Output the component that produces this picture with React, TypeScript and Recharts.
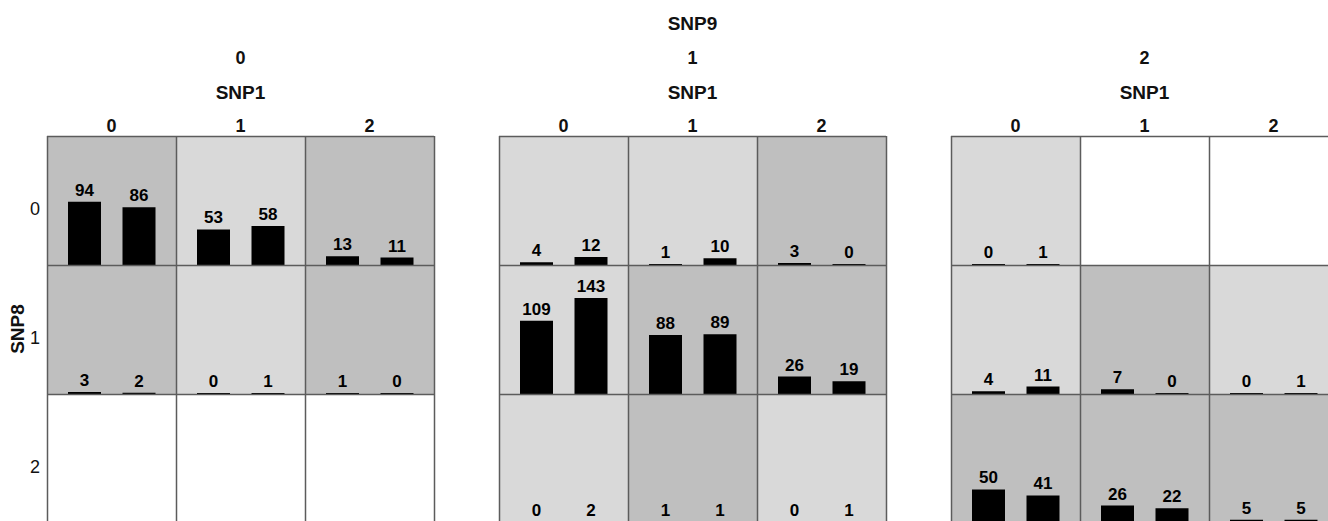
import React from 'react';
import { BarChart, Bar, XAxis, YAxis, CartesianGrid, LabelList } from 'recharts';

const snp9Levels = ['0', '1', '2'];
const snp1Levels = ['0', '1', '2'];
const snp8Levels = ['0', '1', '2'];
const groupKeys = ['A', 'B'];

type Pair = [number, number] | null;

// counts[row = SNP8][col = SNP1] for each SNP9 level
const countsSnp9Is0: Pair[][] = [
  [[94, 86], [53, 58], [13, 11]],
  [[3, 2], [0, 1], [1, 0]],
  [null, null, null],
];
const countsSnp9Is1: Pair[][] = [
  [[4, 12], [1, 10], [3, 0]],
  [[109, 143], [88, 89], [26, 19]],
  [[0, 2], [1, 1], [0, 1]],
];
const countsSnp9Is2: Pair[][] = [
  [[0, 1], null, null],
  [[4, 11], [7, 0], [0, 1]],
  [[50, 41], [26, 22], [5, 5]],
];
const counts = [countsSnp9Is0, countsSnp9Is1, countsSnp9Is2];

// cell shading class: d = dark, l = light, w = none
const shadeSnp9Is0 = [['d', 'l', 'd'], ['d', 'l', 'd'], ['w', 'w', 'w']];
const shadeSnp9Is1 = [['l', 'l', 'd'], ['l', 'd', 'd'], ['l', 'd', 'l']];
const shadeSnp9Is2 = [['l', 'w', 'w'], ['l', 'd', 'l'], ['d', 'd', 'd']];
const shades = [shadeSnp9Is0, shadeSnp9Is1, shadeSnp9Is2];

const shadeColor: Record<string, string> = { d: '#bfbfbf', l: '#d9d9d9', w: '#ffffff' };

const FONT = '"Liberation Sans", Arial, Helvetica, sans-serif';
const PANEL_LEFT = [47, 499, 951];
const TOP = 136;
const CELL_W = 129;
const ROW_H = 129;
const LINE = '#5c5c5c';

const CellChart = ({ pair, bg }: { pair: Pair; bg: string }) => {
  const data = pair ? groupKeys.map((k, i) => ({ k, v: pair[i] })) : [];
  return (
    <BarChart width={CELL_W} height={ROW_H} data={data} margin={{ top: 0, right: 0, bottom: 0, left: 0 }}>
      <CartesianGrid horizontal={false} vertical={false} fill={bg} stroke="none" />
      <XAxis dataKey="k" hide padding={{ left: 10, right: 10 }} />
      <YAxis hide domain={[0, 192]} />
      <Bar dataKey="v" fill="#000000" barSize={33} minPointSize={1} isAnimationActive={false}>
        <LabelList
          dataKey="v"
          position="top"
          offset={6}
          fill="#000000"
          fontSize={17}
          fontWeight="bold"
          fontFamily={FONT}
        />
      </Bar>
    </BarChart>
  );
};

export default function App() {
  const panelW = CELL_W * 3;
  return (
    <div
      style={{
        position: 'absolute',
        left: 0,
        top: 0,
        width: 1328,
        height: 521,
        overflow: 'hidden',
        background: '#ffffff',
        fontFamily: FONT,
      }}
    >
      {snp9Levels.map((_, p) =>
        snp8Levels.map((_, r) =>
          snp1Levels.map((_, c) => (
            <div
              key={`${p}-${r}-${c}`}
              style={{ position: 'absolute', left: PANEL_LEFT[p] + c * CELL_W, top: TOP + r * ROW_H }}
            >
              <CellChart pair={counts[p][r][c]} bg={shadeColor[shades[p][r][c]]} />
            </div>
          ))
        )
      )}

      <svg width={1328} height={521} style={{ position: 'absolute', left: 0, top: 0, pointerEvents: 'none' }}>
        {PANEL_LEFT.map((left, p) => (
          <g key={p}>
            {[0, 1, 2].map((r) => (
              <line
                key={`h${r}`}
                x1={left}
                x2={left + panelW}
                y1={TOP + r * ROW_H + 0.5}
                y2={TOP + r * ROW_H + 0.5}
                stroke={LINE}
                strokeWidth={1.5}
              />
            ))}
            {[0, 1, 2, 3].map((c) => (
              <line
                key={`v${c}`}
                x1={left + c * CELL_W + 0.5}
                x2={left + c * CELL_W + 0.5}
                y1={TOP}
                y2={TOP + 3 * ROW_H}
                stroke={LINE}
                strokeWidth={1.5}
              />
            ))}
            <text x={left + panelW / 2} y={58} textAnchor="middle" dominantBaseline="central" fontSize={18} fontWeight="bold" fill="#111">
              {snp9Levels[p]}
            </text>
            <text x={left + panelW / 2} y={92} textAnchor="middle" dominantBaseline="central" fontSize={19} fontWeight="bold" fill="#111">
              SNP1
            </text>
            {snp1Levels.map((lv, c) => (
              <text
                key={`s${c}`}
                x={left + c * CELL_W + CELL_W / 2}
                y={126}
                textAnchor="middle"
                dominantBaseline="central"
                fontSize={18}
                fontWeight="bold"
                fill="#111"
              >
                {lv}
              </text>
            ))}
          </g>
        ))}
        <text x={PANEL_LEFT[1] + panelW / 2} y={23} textAnchor="middle" dominantBaseline="central" fontSize={19} fontWeight="bold" fill="#111">
          SNP9
        </text>
        {snp8Levels.map((lv, r) => (
          <text
            key={`r${r}`}
            x={35}
            y={TOP + r * ROW_H + ROW_H / 2 + 8}
            textAnchor="middle"
            dominantBaseline="central"
            fontSize={18}
            fill="#111"
          >
            {lv}
          </text>
        ))}
        <text
          x={17}
          y={329}
          transform="rotate(-90 17 329)"
          textAnchor="middle"
          dominantBaseline="central"
          fontSize={19}
          fontWeight="bold"
          fill="#111"
        >
          SNP8
        </text>
      </svg>
    </div>
  );
}
